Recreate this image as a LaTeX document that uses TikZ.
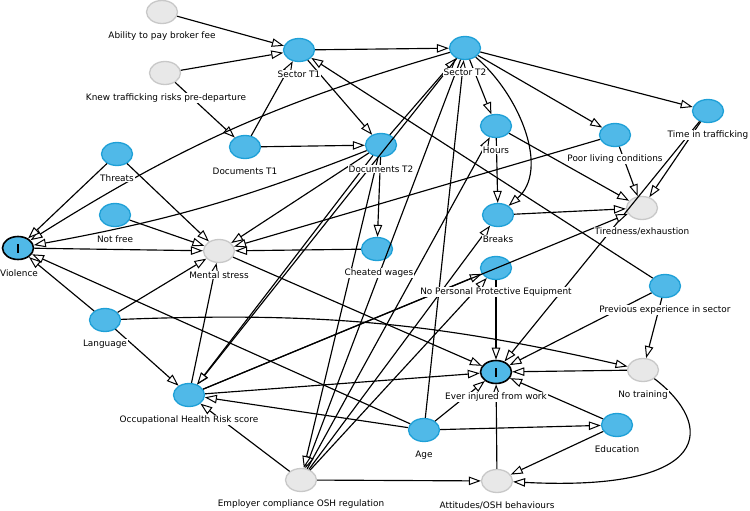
\documentclass[tikz,border=0pt]{standalone}
\usepackage{fontspec}
\setmainfont{DejaVu Sans}
\usetikzlibrary{shapes.geometric,arrows.meta}
\definecolor{dagblue}{RGB}{80,185,232}
\definecolor{dagblueline}{RGB}{30,160,215}
\definecolor{daggrey}{RGB}{232,232,232}
\definecolor{daggreyline}{RGB}{200,200,200}
\tikzset{
  var/.style={ellipse,minimum width=31pt,minimum height=23pt,inner sep=0pt,line width=1.3pt},
  anc/.style={var,fill=dagblue,draw=dagblueline},
  oth/.style={var,fill=daggrey,draw=daggreyline},
  outc/.style={var,fill=dagblue,draw=black,line width=1.6pt},
  lbl/.style={fill=white,inner sep=0.8pt,font=\fontsize{8.9}{10}\selectfont},
  edge/.style={line width=1.15pt,-{Triangle[length=12pt,width=8.5pt,fill=white,line width=1pt]}},
}
\newcommand{\obar}{\rule[-4.5pt]{2.8pt}{9pt}}
\begin{document}
\begin{tikzpicture}[x=1pt,y=-1pt,line join=round]
\useasboundingbox (0,0) rectangle (750,511);
% variables
\node[oth] (abil) at (162,12) {};
\node[oth] (knew) at (165,73) {};
\node[anc] (st1) at (299,50) {};
\node[anc] (st2) at (465,48) {};
\node[anc] (doc1) at (245,147) {};
\node[anc] (doc2) at (381,145) {};
\node[anc] (thr) at (117,154) {};
\node[anc] (nfree) at (115,215) {};
\node[outc] (viol) at (18,248) {\obar};
\node[oth] (ment) at (219,251) {};
\node[anc] (chw) at (377,249) {};
\node[anc] (hours) at (496,126) {};
\node[anc] (brk) at (498,215) {};
\node[anc] (poor) at (615,135) {};
\node[anc] (time) at (708,111) {};
\node[oth] (tired) at (642,208) {};
\node[anc] (ppe) at (496,268) {};
\node[anc] (prev) at (665,286) {};
\node[anc] (lang) at (105,320) {};
\node[anc] (ohr) at (189,395) {};
\node[outc] (inj) at (496,372) {\obar};
\node[oth] (notr) at (643,370) {};
\node[anc] (age) at (424,430) {};
\node[anc] (edu) at (617,425) {};
\node[oth] (emp) at (301,480) {};
\node[oth] (att) at (497,481) {};
% arrows
\draw[edge] (abil) -- (st1);
\draw[edge] (knew) -- (st1);
\draw[edge] (knew) -- (doc1);
\draw[edge] (st1) -- (st2);
\draw[edge] (st1) -- (doc2);
\draw[edge] (doc1) -- (st1);
\draw[edge] (doc1) -- (doc2);
\draw[edge] (prev) -- (st1);
\draw[edge] (st2) -- (time);
\draw[edge] (st2) -- (poor);
\draw[edge] (st2) -- (hours);
\draw[edge] (st2) .. controls (520,95) and (550,170) .. (brk);
\draw[edge] (st2) to[bend right=8] (viol);
\draw[edge] (doc2) -- (st2);
\draw[edge] (st2) -- (ohr);
\draw[edge] (st2) -- (emp);
\draw[edge] (doc2) to[bend left=5.5] (viol);
\draw[edge] (doc2) -- (ment);
\draw[edge] (doc2) -- (chw);
\draw[edge] (doc2) -- (ohr);
\draw[edge] (doc2) -- (emp);
\draw[edge] (thr) -- (viol);
\draw[edge] (thr) -- (ment);
\draw[edge] (nfree) -- (ment);
\draw[edge] (viol) -- (ment);
\draw[edge] (lang) -- (viol);
\draw[edge] (lang) -- (ment);
\draw[edge] (lang) -- (ohr);
\draw[edge] (lang) to[bend left=7.5] (notr);
\draw[edge] (age) -- (viol);
\draw[edge] (age) -- (ohr);
\draw[edge] (age) -- (inj);
\draw[edge] (age) -- (edu);
\draw[edge] (age) -- (st2);
\draw[edge] (chw) -- (ment);
\draw[edge] (poor) -- (ment);
\draw[edge] (poor) -- (tired);
\draw[edge] (hours) -- (tired);
\draw[edge] (hours) -- (brk);
\draw[edge] (brk) -- (tired);
\draw[edge] (time) -- (tired);
\draw[edge] (time) -- (inj);
\draw[edge] (ppe) -- (inj);
\draw[edge] (ment) -- (inj);
\draw[edge] (ohr) -- (ment);
\draw[edge] (ohr) -- (inj);
\draw[edge] (ohr) -- (ppe);
\draw[edge] (ohr) -- (tired);
\draw[edge] (emp) -- (ohr);
\draw[edge] (emp) -- (att);
\draw[edge] (emp) -- (hours);
\draw[edge] (emp) -- (brk);
\draw[edge] (emp) -- (ppe);
\draw[edge] (prev) -- (notr);
\draw[edge] (prev) -- (inj);
\draw[edge] (notr) -- (inj);
\draw[edge] (notr) .. controls (715,425) and (715,492) .. (att);
\draw[edge] (edu) -- (inj);
\draw[edge] (edu) -- (att);
\draw[edge] (att) -- (inj);
% labels
\node[lbl] (abilt) at (162,36) {Ability to pay broker fee};
\node[lbl] (knewt) at (166,98) {Knew trafficking risks pre-departure};
\node[lbl] (st1t) at (299,74) {Sector T1};
\node[lbl] (st2t) at (465,72) {Sector T2};
\node[lbl] (doc1t) at (245,171) {Documents T1};
\node[lbl] (doc2t) at (381,169) {Documents T2};
\node[lbl] (thrt) at (117,178) {Threats};
\node[lbl] (nfreet) at (115,239) {Not free};
\node[lbl] (violt) at (19,273) {Violence};
\node[lbl] (mentt) at (219,275) {Mental stress};
\node[lbl] (chwt) at (379,273) {Cheated wages};
\node[lbl] (hourst) at (496,150) {Hours};
\node[lbl] (brkt) at (498,239) {Breaks};
\node[lbl] (poort) at (615,159) {Poor living conditions};
\node[lbl] (timet) at (708,135) {Time in trafficking};
\node[lbl] (tiredt) at (642,232) {Tiredness/exhaustion};
\node[lbl] (ppet) at (496,292) {No Personal Protective Equipment};
\node[lbl] (prevt) at (665,310) {Previous experience in sector};
\node[lbl] (langt) at (105,344) {Language};
\node[lbl] (ohrt) at (189,420) {Occupational Health Risk score};
\node[lbl] (injt) at (496,397) {Ever injured from work};
\node[lbl] (notrt) at (643,395) {No training};
\node[lbl] (aget) at (424,455) {Age};
\node[lbl] (edut) at (617,449) {Education};
\node[lbl] (empt) at (301,504) {Employer compliance OSH regulation};
\node[lbl] (attt) at (497,506) {Attitudes/OSH behaviours};
\end{tikzpicture}
\end{document}
